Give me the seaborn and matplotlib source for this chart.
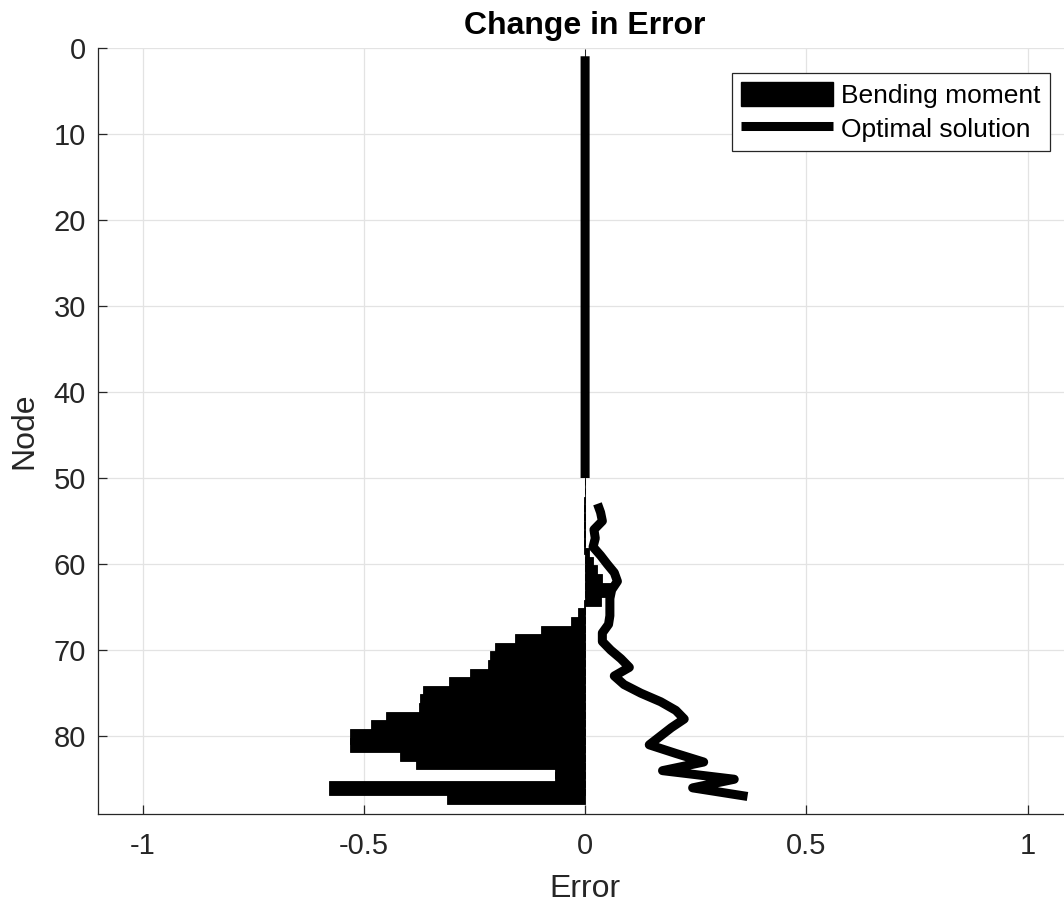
import numpy as np
import pandas as pd
import matplotlib
matplotlib.use("Agg")
import matplotlib.pyplot as plt
import seaborn as sns
from matplotlib.patches import Patch
from matplotlib.lines import Line2D

# Node numbers along the member
nodes = list(range(1, 88))

# Change in error of the bending-moment solution, one value per node
bending_moment = (
    [0.0] * 52
    + [-0.003] * 6
    + [0.009, 0.017, 0.027, 0.039, 0.061, 0.036, -0.002, -0.015,
       -0.032, -0.100, -0.159, -0.204, -0.216, -0.220, -0.259, -0.308,
       -0.367, -0.372, -0.376, -0.451, -0.483, -0.532, -0.532, -0.419,
       -0.383, -0.069, -0.069, -0.579, -0.311]
)

# Change in error of the optimal solution (no values at nodes 51-52)
optimal_solution = (
    [0.0] * 50
    + [np.nan, np.nan]
    + [0.028, 0.035, 0.039, 0.020, 0.023, 0.018, 0.035, 0.050, 0.066,
       0.073, 0.060, 0.056, 0.056, 0.056, 0.053, 0.039, 0.039, 0.058,
       0.081, 0.100, 0.066, 0.088, 0.126, 0.171, 0.205, 0.224, 0.195,
       0.170, 0.145, 0.205, 0.268, 0.175, 0.337, 0.243, 0.367]
)

x_ticks = [-1, -0.5, 0, 0.5, 1]
x_tick_labels = ["-1", "-0.5", "0", "0.5", "1"]
y_ticks = [0, 10, 20, 30, 40, 50, 60, 70, 80]

sns.set_theme(style="whitegrid")
plt.rcParams["font.family"] = ["Liberation Sans", "DejaVu Sans"]

dark = "#262626"

fig = plt.figure(figsize=(10.64, 9.06), dpi=100)
fig.patch.set_facecolor("white")
ax = fig.add_axes([0.0924, 0.1019, 0.915, 0.8455])
ax.set_facecolor("white")

df = pd.DataFrame({"node": nodes, "bending": bending_moment})
sns.barplot(
    data=df, x="bending", y="node", orient="y", native_scale=True,
    width=1.7, color="black", saturation=1, edgecolor="black",
    linewidth=0.6, errorbar=None, ax=ax,
)

ax.plot(optimal_solution, nodes, color="black", lw=6.5,
        solid_capstyle="butt", solid_joinstyle="round", zorder=3)

ax.set_xlim(-1.1, 1.1)
ax.set_ylim(89, 0)
ax.set_xticks(x_ticks)
ax.set_xticklabels(x_tick_labels)
ax.set_yticks(y_ticks)

ax.grid(True, color="#e3e3e3", lw=0.9)
ax.set_axisbelow(True)

for side in ("top", "right"):
    ax.spines[side].set_visible(False)
for side in ("left", "bottom"):
    ax.spines[side].set_color(dark)
    ax.spines[side].set_linewidth(0.9)

ax.tick_params(axis="both", direction="in", length=6.5, width=0.9,
               color=dark, labelcolor=dark, labelsize=21)
ax.tick_params(axis="y", pad=9, left=True)
ax.tick_params(axis="x", pad=13.5, bottom=True)

ax.set_title("Change in Error", fontsize=23, fontweight="bold",
             color="black", pad=10)
ax.set_xlabel("Error", fontsize=23, color=dark, labelpad=9.5)
ax.set_ylabel("Node", fontsize=23, color=dark, labelpad=10)

handles = [
    Patch(facecolor="black", edgecolor="black", label="Bending moment"),
    Line2D([0], [0], color="black", lw=6.5, solid_capstyle="butt",
           label="Optimal solution"),
]
leg = ax.legend(
    handles=handles, loc="upper right",
    bbox_to_anchor=(1050 / 1064, 1 - 73 / 906),
    bbox_transform=fig.transFigure, borderaxespad=0,
    fontsize=19, handlelength=3.5, handleheight=1.0,
    handletextpad=0.3, labelspacing=0.3, borderpad=0.35,
    fancybox=False, framealpha=1, edgecolor=dark,
)
leg.get_frame().set_linewidth(0.9)
for t in leg.get_texts():
    t.set_color("black")

fig.savefig("out.png", dpi=100, facecolor="white")
